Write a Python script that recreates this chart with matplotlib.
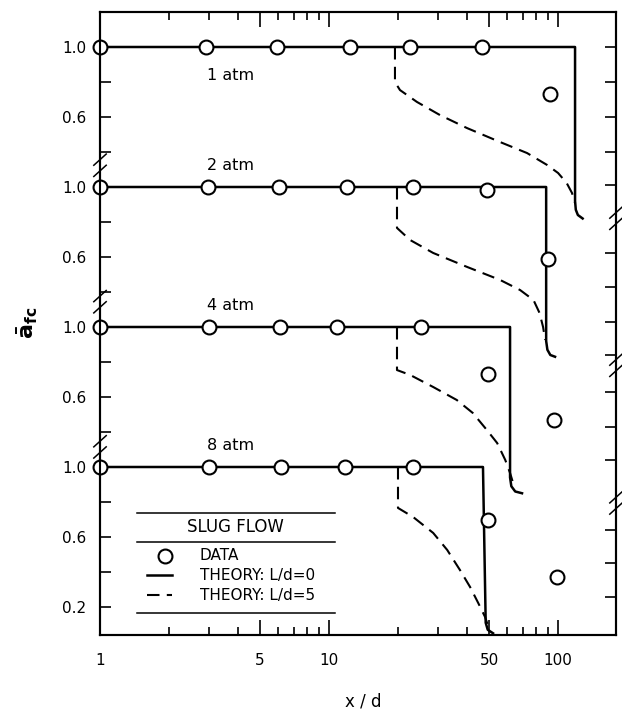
import numpy as np
import matplotlib
matplotlib.use("Agg")
import matplotlib.pyplot as plt
from matplotlib.ticker import FixedLocator, NullFormatter

# ---- data (x/d, a_fc) per pressure ----
pressures = ["1 atm", "2 atm", "4 atm", "8 atm"]

x_data_1 = [1.0, 2.9, 5.9, 12.4, 22.6, 46.6, 92.0]
a_data_1 = [1.0, 1.0, 1.0, 1.0, 1.0, 1.0, 0.73]
x_data_2 = [1.0, 2.96, 6.06, 12.0, 23.2, 48.8, 90.0]
a_data_2 = [1.0, 1.0, 1.0, 1.0, 1.0, 0.98, 0.59]
x_data_4 = [1.0, 3.0, 6.1, 10.8, 25.2, 49.5, 96.0]
a_data_4 = [1.0, 1.0, 1.0, 1.0, 1.0, 0.73, 0.47]
x_data_8 = [1.0, 3.0, 6.2, 11.7, 23.3, 49.5, 99.0]
a_data_8 = [1.0, 1.0, 1.0, 1.0, 1.0, 0.70, 0.37]

# theory L/d = 0 (solid)
x_l0_1 = [1.0, 118.6, 118.6, 119.5, 122.0, 128.0]
a_l0_1 = [1.0, 1.0, 0.12, 0.07, 0.04, 0.02]
x_l0_2 = [1.0, 88.7, 88.7, 89.8, 92.5, 97.0]
a_l0_2 = [1.0, 1.0, 0.12, 0.07, 0.04, 0.03]
x_l0_4 = [1.0, 61.7, 61.7, 62.5, 65.0, 69.6]
a_l0_4 = [1.0, 1.0, 0.14, 0.09, 0.06, 0.05]
x_l0_8 = [1.0, 47.0, 48.3, 49.3, 52.0]
a_l0_8 = [1.0, 1.0, 0.11, 0.07, 0.05]

# theory L/d = 5 (dashed)
x_l5_1 = [19.4, 19.4, 20.4, 24.2, 30.5, 40.0, 55.8, 73.2, 89.5, 100.0, 109.0, 115.0, 118.6]
a_l5_1 = [1.0, 0.8, 0.754, 0.686, 0.611, 0.537, 0.457, 0.394, 0.326, 0.28, 0.223, 0.166, 0.109]
x_l5_2 = [19.8, 19.8, 22.6, 28.5, 40.1, 55.8, 68.3, 78.1, 83.0, 86.0, 87.8]
a_l5_2 = [1.0, 0.766, 0.697, 0.623, 0.543, 0.469, 0.411, 0.354, 0.28, 0.2, 0.126]
x_l5_4 = [19.8, 19.8, 22.6, 28.5, 36.1, 42.4, 48.9, 54.2, 58.8, 61.7, 63.6]
a_l5_4 = [1.0, 0.754, 0.726, 0.657, 0.583, 0.509, 0.411, 0.337, 0.24, 0.166, 0.109]
x_l5_8 = [20.0, 20.0, 23.3, 28.5, 32.8, 37.3, 41.3, 44.8, 48.0, 49.5]
a_l5_8 = [1.0, 0.766, 0.714, 0.623, 0.526, 0.411, 0.314, 0.223, 0.143, 0.091]

x_ticks = [1, 5, 10, 50, 100]
x_tick_labels = ["1", "5", "10", "50", "100"]

# vertical stacking of the four panels (shift in a_fc units)
band_shift = 0.8

data = [(x_data_1, a_data_1), (x_data_2, a_data_2), (x_data_4, a_data_4), (x_data_8, a_data_8)]
solid = [(x_l0_1, a_l0_1), (x_l0_2, a_l0_2), (x_l0_4, a_l0_4), (x_l0_8, a_l0_8)]
dashed = [(x_l5_1, a_l5_1), (x_l5_2, a_l5_2), (x_l5_4, a_l5_4), (x_l5_8, a_l5_8)]
label_pos = [(3.7, 0.84), (3.7, 1.12), (3.7, 1.12), (3.7, 1.12)]

plt.rcParams["font.family"] = "DejaVu Sans"
fig = plt.figure(figsize=(6.22, 7.14), dpi=100)
ax = fig.add_axes([100 / 622, 79 / 714, 516 / 622, 623 / 714])
ax.set_xscale("log")

for k in range(4):
    off = band_shift * k
    xs, ys = solid[k]
    ax.plot(xs, np.array(ys) - off, "k-", lw=1.8, zorder=2)
    xs, ys = dashed[k]
    ax.plot(xs, np.array(ys) - off, "k--", lw=1.5, dashes=(6, 3.5), zorder=2)
    xs, ys = data[k]
    ax.plot(xs, np.array(ys) - off, "o", ms=10, mfc="white", mec="black",
            mew=1.5, zorder=3, clip_on=False)
    lx, ly = label_pos[k]
    ax.text(lx, ly - off, pressures[k], ha="center", va="center", fontsize=11.5)

ax.set_xlim(1, 179)
ax.set_ylim(-2.36, 1.2)

# x ticks (bottom and top, pointing in)
ax.xaxis.set_major_locator(FixedLocator(x_ticks))
ax.set_xticklabels(x_tick_labels)
ax.xaxis.set_minor_locator(FixedLocator([2, 3, 4, 6, 7, 8, 9, 20, 30, 40, 60, 70, 80, 90]))
ax.xaxis.set_minor_formatter(NullFormatter())
ax.tick_params(axis="x", which="major", direction="in", length=11, width=1.2,
               top=True, labelsize=11, pad=13)
ax.tick_params(axis="x", which="minor", direction="in", length=6, width=1.2, top=True)

# y ticks: each band has 1.0 / 0.6 labelled, 0.8 / 0.4 unlabelled
y_major, y_labels, y_minor = [], [], []
for k in range(4):
    off = band_shift * k
    y_major += [1.0 - off, 0.6 - off]
    y_labels += ["1.0", "0.6"]
    y_minor += [0.8 - off, 0.4 - off]
y_major.append(0.2 - 3 * band_shift)
y_labels.append("0.2")
ax.yaxis.set_major_locator(FixedLocator(y_major))
ax.set_yticklabels(y_labels)
ax.yaxis.set_minor_locator(FixedLocator(y_minor))
ax.yaxis.set_minor_formatter(NullFormatter())
ax.tick_params(axis="y", which="both", direction="in", length=8, width=1.2,
               labelsize=11, pad=10)

# right axis has its own tick spacing in the original drawing
twin = ax.twinx()
twin.set_ylim(ax.get_ylim())
twin.set_yticks([1.0, 0.8, 0.6, 0.4, 0.21, -0.18, -0.37, -0.57, -0.76,
                 -0.97, -1.17, -1.36, -1.76, -1.95, -2.14])
twin.set_yticklabels([])
twin.tick_params(axis="y", direction="in", length=8, width=1.2)

for a in (ax, twin):
    for s in a.spines.values():
        s.set_linewidth(1.5)

# axis breaks
def brk(xf, yf):
    for d in (-0.009, 0.009):
        ax.plot([xf - 0.012, xf + 0.012], [yf + d - 0.009, yf + d + 0.009], "k-",
                lw=1.1, transform=ax.transAxes, clip_on=False, zorder=4)

for yf in (0.754, 0.535, 0.302):
    brk(0.0, yf)
for yf in (0.669, 0.433, 0.212):
    brk(1.0, yf)

# legend block
tr = ax.transAxes
for yy in (0.196, 0.149, 0.035):
    ax.plot([0.072, 0.455], [yy, yy], "k-", lw=1.1, transform=tr)
ax.text(0.262, 0.173, "SLUG FLOW", transform=tr, ha="center", va="center", fontsize=12)
ax.plot([0.126], [0.127], "o", ms=10, mfc="white", mec="black", mew=1.5, transform=tr)
ax.text(0.192, 0.127, "DATA", transform=tr, va="center", fontsize=11)
ax.plot([0.091, 0.140], [0.096, 0.096], "k-", lw=1.8, transform=tr)
ax.text(0.194, 0.096, "THEORY: L/d=0", transform=tr, va="center", fontsize=11)
ax.plot([0.091, 0.140], [0.064, 0.064], "k--", lw=1.5, dashes=(6, 3.5), transform=tr)
ax.text(0.194, 0.064, "THEORY: L/d=5", transform=tr, va="center", fontsize=11)

fig.text(363 / 622, 1 - 702 / 714, "x / d", ha="center", va="center", fontsize=12)
fig.text(28 / 622, 1 - 323 / 714, r"$\mathbf{\bar{a}_{fc}}$", ha="center", va="center",
         rotation=90, fontsize=16)

fig.savefig("out.png", dpi=100)
